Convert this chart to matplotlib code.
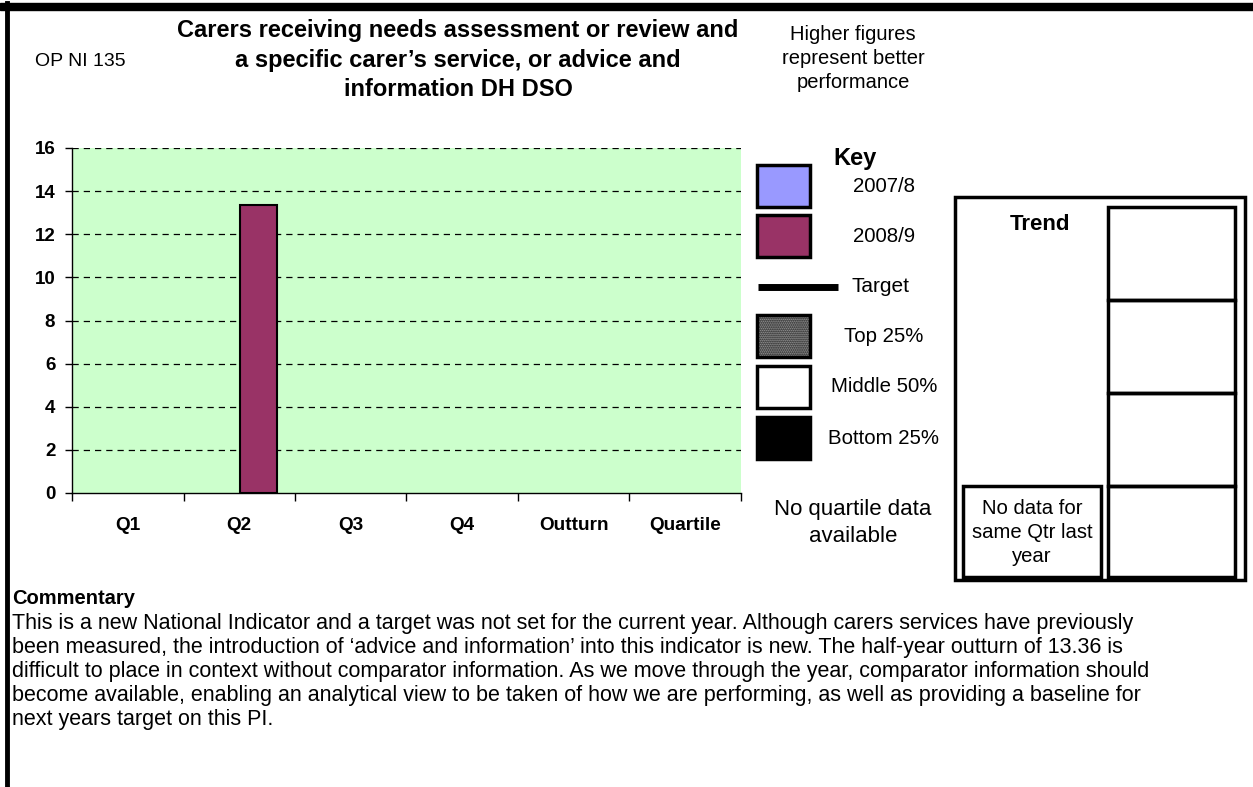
import matplotlib.pyplot as plt
import matplotlib.patches as mpatches
import numpy as np

plt.rcParams['font.family'] = ['Liberation Sans', 'DejaVu Sans']

categories = ['Q1', 'Q2', 'Q3', 'Q4', 'Outturn', 'Quartile']
values_0708 = [np.nan, np.nan, np.nan, np.nan, np.nan, np.nan]
values_0809 = [np.nan, 13.36, np.nan, np.nan, np.nan, np.nan]
yticks = [0, 2, 4, 6, 8, 10, 12, 14, 16]

title_lines = ['Carers receiving needs assessment or review and',
               'a specific carer\u2019s service, or advice and',
               'information DH DSO']
commentary = [
    'This is a new National Indicator and a target was not set for the current year. Although carers services have previously',
    'been measured, the introduction of \u2018advice and information\u2019 into this indicator is new. The half-year outturn of 13.36 is',
    'difficult to place in context without comparator information. As we move through the year, comparator information should',
    'become available, enabling an analytical view to be taken of how we are performing, as well as providing a baseline for',
    'next years target on this PI.',
]

W, H = 1253, 787
fig = plt.figure(figsize=(W / 100, H / 100), dpi=100)

# page overlay in pixel coordinates
pg = fig.add_axes([0, 0, 1, 1])
pg.set_xlim(0, W)
pg.set_ylim(H, 0)
pg.axis('off')

# chart area
x0, x1, ytop, ybot = 72, 741, 148, 493
ax = fig.add_axes([x0 / W, 1 - ybot / H, (x1 - x0) / W, (ybot - ytop) / H])
ax.set_facecolor('#CCFFCC')
x = np.arange(len(categories))
bw = 0.33
ax.bar(x - 0.165, values_0708, bw, color='#9999FF', edgecolor='black', linewidth=1.5)
ax.bar(x + 0.175, values_0809, bw, color='#993366', edgecolor='black', linewidth=1.5)
ax.set_xlim(-0.5, len(categories) - 0.5)
ax.set_ylim(0, 16)
ax.set_yticks(yticks)
ax.set_yticklabels([str(t) for t in yticks], fontsize=13.5, fontweight='bold')
for t in yticks[1:]:
    ax.axhline(t, color='black', linestyle=(0, (5, 4)), linewidth=0.9, zorder=0.5)
ax.set_xticks(np.arange(len(categories) + 1) - 0.5)
ax.set_xticklabels([])
ax.set_xticks(x, minor=True)
ax.set_xticklabels(categories, minor=True, fontsize=13.7, fontweight='bold')
ax.tick_params(axis='x', which='minor', length=0, pad=17)
ax.tick_params(axis='x', which='major', length=6, width=1)
ax.tick_params(axis='y', length=5, width=1, pad=7)
for s in ['top', 'right']:
    ax.spines[s].set_visible(False)
ax.spines['left'].set_linewidth(1)
ax.spines['bottom'].set_linewidth(1)

# page borders
pg.add_patch(mpatches.Rectangle((0, 3), W, 7, color='black'))
pg.plot([7, 7], [3, H], color='black', lw=3.5)

# titles
for i, line in enumerate(title_lines):
    pg.text(458, 30 + i * 30, line, ha='center', va='center', fontsize=17, fontweight='bold')
pg.text(35, 61, 'OP NI 135', ha='left', va='center', fontsize=14)
for i, line in enumerate(['Higher figures', 'represent better', 'performance']):
    pg.text(853, 34 + i * 24.5, line, ha='center', va='center', fontsize=14.5)

# key
pg.text(855, 158, 'Key', ha='center', va='center', fontsize=17, fontweight='bold')
key_boxes = [(165, '#9999FF', None, '2007/8'),
             (215, '#993366', None, '2008/9'),
             (315, '#b0b0b0', '........', 'Top 25%'),
             (366, 'white', None, 'Middle 50%'),
             (417, 'black', None, 'Bottom 25%')]
for y, fc, hatch, label in key_boxes:
    pg.add_patch(mpatches.Rectangle((757, y), 53, 42, facecolor=fc, edgecolor='black',
                                    linewidth=2.5, hatch=hatch))
    pg.text(884, y + 21, label, ha='center', va='center', fontsize=14.7)
pg.plot([758, 838], [287, 287], color='black', lw=5, solid_capstyle='butt')
pg.text(881, 287, 'Target', ha='center', va='center', fontsize=15)
pg.text(853, 510, 'No quartile data', ha='center', va='center', fontsize=16)
pg.text(853, 537, 'available', ha='center', va='center', fontsize=16)

# trend panel
pg.add_patch(mpatches.Rectangle((955, 197), 290, 383, fill=False, edgecolor='black', linewidth=2.5))
for top in [207, 300, 393, 486]:
    pg.add_patch(mpatches.Rectangle((1108, top), 127, 93 if top < 486 else 91,
                                    fill=False, edgecolor='black', linewidth=2.5))
pg.text(1040, 224, 'Trend', ha='center', va='center', fontsize=16, fontweight='bold')
pg.add_patch(mpatches.Rectangle((963, 486), 138, 91, fill=False, edgecolor='black', linewidth=2.5))
for i, line in enumerate(['No data for', 'same Qtr last', 'year']):
    pg.text(1032, 508 + i * 24, line, ha='center', va='center', fontsize=14.6)

# commentary
pg.text(12, 598, 'Commentary', ha='left', va='center', fontsize=14.5, fontweight='bold')
for i, line in enumerate(commentary):
    pg.text(12, 623 + i * 24, line, ha='left', va='center', fontsize=15.5)

fig.savefig('out.png', dpi=100)
